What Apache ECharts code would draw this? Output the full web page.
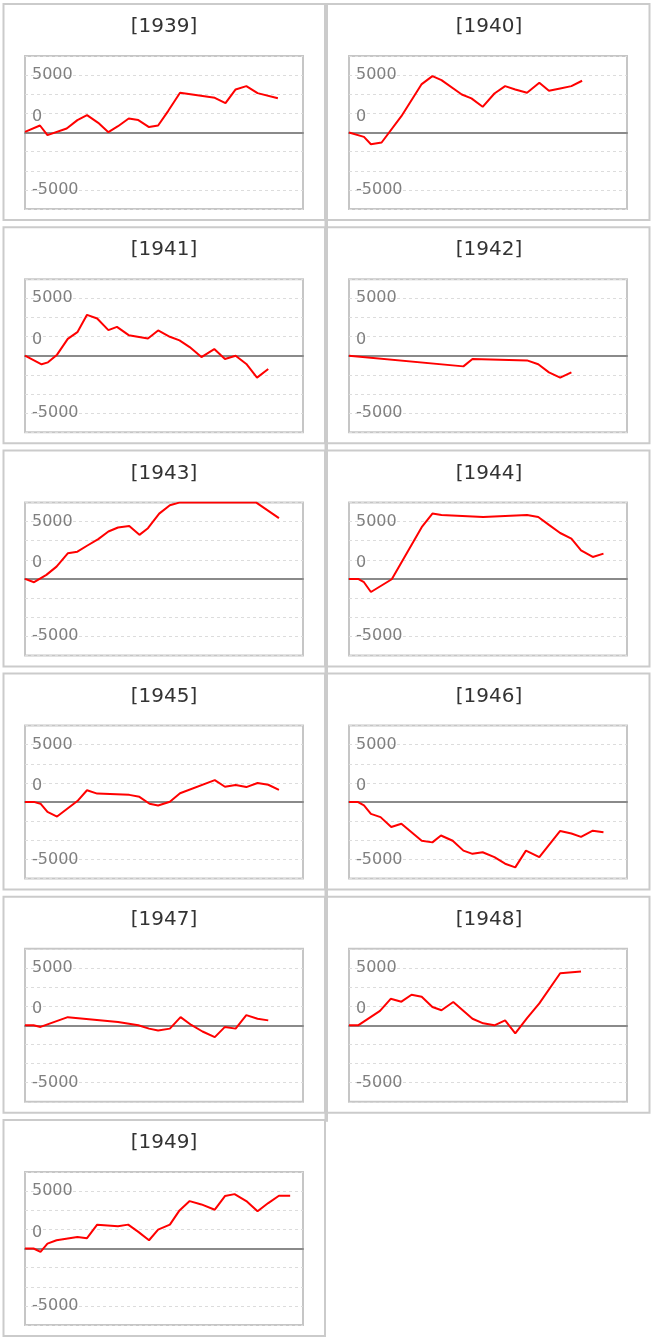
<!DOCTYPE html>
<html>
<head>
<meta charset="utf-8">
<script src="https://cdn.jsdelivr.net/npm/echarts@6/dist/echarts.min.js"></script>
<style>
html,body{margin:0;padding:0;background:#fff;}
#chart{width:653px;height:1339px;}
</style>
</head>
<body>
<div id="chart"></div>
<script>
// x = week of year, y = value
const years = ['1939','1940','1941','1942','1943','1944','1945','1946','1947','1948','1949'];
const yLabels = ['5000', '0', '-5000'];

const s1939 = [[0,50],[2.8,610],[4.2,-230],[7.8,350],[9.8,1080],[11.6,1510],[13.7,840],[15.6,30],[17.4,550],[19.4,1220],[21.2,1080],[23.2,470],[24.9,610],[26.8,1890],[29.0,3460],[35.5,3020],[37.5,2560],[39.4,3750],[41.4,4040],[43.5,3430],[47.3,2990]];
const s1940 = [[0,0],[2.8,-380],[4.1,-1020],[6.1,-870],[9.8,1420],[13.6,4220],[15.6,4910],[17.3,4560],[21.1,3310],[22.9,2970],[25.0,2240],[27.2,3400],[29.2,4040],[31.1,3750],[33.3,3460],[35.6,4330],[37.4,3630],[39.5,3840],[41.6,4040],[43.6,4510]];
const s1941 = [[0,0],[3.1,-750],[4.3,-580],[6.0,90],[8.0,1470],[9.8,2050],[11.6,3560],[13.5,3240],[15.6,2230],[17.2,2510],[19.4,1790],[23.0,1500],[24.9,2200],[27.1,1650],[28.9,1330],[30.8,750],[33.0,-120],[35.4,580],[37.4,-290],[39.4,0],[41.4,-720],[43.4,-1910],[45.5,-1160]];
const s1942 = [[0,0],[21.4,-930],[23.1,-290],[33.3,-410],[35.4,-750],[37.4,-1450],[39.5,-1910],[41.6,-1450]];
const s1943 = [[0,0],[1.7,-290],[4.0,350],[5.9,1070],[8.0,2230],[9.8,2370],[11.6,2890],[13.7,3470],[15.6,4130],[17.4,4480],[19.5,4600],[21.4,3840],[23.0,4420],[25.1,5690],[27.1,6420],[29.0,6667],[31.0,6667],[33.0,6667],[35.0,6667],[37.0,6667],[39.0,6667],[41.0,6667],[43.2,6667],[47.5,5290]];
const s1944 = [[0,0],[1.7,0],[2.8,-290],[4.1,-1140],[8.0,-30],[13.6,4510],[15.6,5690],[17.3,5570],[25.1,5400],[33.3,5570],[35.4,5400],[37.4,4710],[39.5,4000],[41.6,3510],[43.4,2490],[45.6,1910],[47.6,2200]];
const s1945 = [[0,0],[1.8,0],[2.9,-140],[4.2,-860],[6.0,-1260],[9.8,90],[11.6,1030],[13.5,740],[19.5,630],[21.4,460],[23.3,-140],[24.9,-290],[27.1,30],[29.0,770],[35.5,1910],[37.4,1340],[39.4,1490],[41.4,1310],[43.5,1660],[45.5,1510],[47.5,1060]];
const s1946 = [[0,0],[1.7,0],[2.8,-290],[4.1,-1030],[5.9,-1310],[7.9,-2170],[9.8,-1890],[13.6,-3370],[15.6,-3510],[17.2,-2910],[19.4,-3370],[21.4,-4230],[23.1,-4510],[25.0,-4370],[27.2,-4800],[29.2,-5370],[31.1,-5690],[33.1,-4230],[35.6,-4800],[39.5,-2510],[41.6,-2740],[43.4,-3030],[45.6,-2490],[47.6,-2630]];
const s1947 = [[0,0],[1.6,0],[2.9,-140],[8.0,710],[17.4,290],[21.2,0],[23.2,-290],[24.9,-460],[27.1,-290],[29.1,710],[31.1,30],[33.2,-540],[35.5,-1030],[37.4,-140],[39.4,-290],[41.4,890],[43.5,570],[45.5,430]];
const s1948 = [[0,0],[1.7,0],[5.8,1260],[7.8,2310],[9.8,2060],[11.7,2660],[13.6,2490],[15.6,1600],[17.3,1310],[19.5,2030],[23.1,570],[25.1,170],[27.2,0],[29.2,430],[31.1,-710],[33.3,630],[35.6,1910],[39.5,4540],[43.4,4690]];
const s1949 = [[0,0],[1.6,0],[2.9,-290],[4.2,430],[5.9,720],[9.8,1010],[11.6,900],[13.5,2080],[17.4,1940],[19.3,2080],[21.2,1450],[23.2,720],[24.9,1650],[27.1,2080],[28.9,3320],[30.8,4130],[33.0,3840],[35.5,3380],[37.4,4570],[39.2,4740],[41.4,4130],[43.5,3240],[45.5,3960],[47.5,4600],[49.6,4600]];

const seriesData = [s1939,s1940,s1941,s1942,s1943,s1944,s1945,s1946,s1947,s1948,s1949];

const FONT = 'DejaVu Sans';
const Y_MAX = 20000 / 3, Y_STEP = 5000 / 3;
const rowTop = r => 4 + r * 223.2;
const panelX = [3.5, 327], panelW = [321.5, 322.5];
const gridLeft = [25, 349];
const titleX = [164, 489];

const grids = [], xAxes = [], yAxes = [], series = [], graphics = [];
years.forEach((yr, i) => {
  const c = i % 2, r = Math.floor(i / 2);
  const top = rowTop(r);
  graphics.push({type:'rect', z:0, shape:{x:panelX[c], y:top, width:panelW[c], height:216},
    style:{fill:'none', stroke:'#cbcbcb', lineWidth:2}});
  graphics.push({type:'text', x:titleX[c], y:top + 23, style:{text:'[' + yr + ']', align:'center', verticalAlign:'middle',
    fontSize:20, fill:'#333333', fontFamily:FONT}});
  grids.push({left:gridLeft[c], top:top + 52, width:278, height:153, show:true,
    borderColor:'#c6c6c6', borderWidth:2, backgroundColor:'transparent'});
  xAxes.push({gridIndex:i, type:'value', min:0, max:52,
    axisLine:{show:true, onZero:true, lineStyle:{color:'#8a8a8a', width:2}},
    axisTick:{show:false}, axisLabel:{show:false}, splitLine:{show:false}});
  yAxes.push({gridIndex:i, type:'value', min:-Y_MAX, max:Y_MAX, interval:Y_STEP,
    axisLine:{show:false}, axisTick:{show:false},
    splitLine:{show:true, lineStyle:{color:'#dcdcdc', width:1, type:[3,3]}},
    axisLabel:{inside:true, margin:7, color:'#808080', fontSize:16, fontFamily:FONT, lineHeight:32,
      showMinLabel:true, showMaxLabel:true,
      formatter: v => {
        const k = Math.round(v);
        if (k === 5000) return yLabels[0];
        if (k === 0) return yLabels[1] + '\n ';
        if (k === -5000) return yLabels[2];
        return '';
      }}});
  series.push({type:'line', xAxisIndex:i, yAxisIndex:i, data:seriesData[i], symbol:'none', showSymbol:false,
    clip:true, lineStyle:{color:'#ff0000', width:2}, itemStyle:{color:'#ff0000'}, z:3});
});
// vertical divider through row gaps
for (let r = 0; r < 5; r++) {
  graphics.push({type:'rect', shape:{x:324.5, y:rowTop(r) + 215, width:3.5, height:10}, style:{fill:'#cbcbcb'}});
}

const chart = echarts.init(document.getElementById('chart'), null, {renderer:'canvas'});
chart.setOption({
  animation:false,
  backgroundColor:'#ffffff',
  grid:grids, xAxis:xAxes, yAxis:yAxes, series:series,
  graphic:{elements:graphics}
});
</script>
</body>
</html>
